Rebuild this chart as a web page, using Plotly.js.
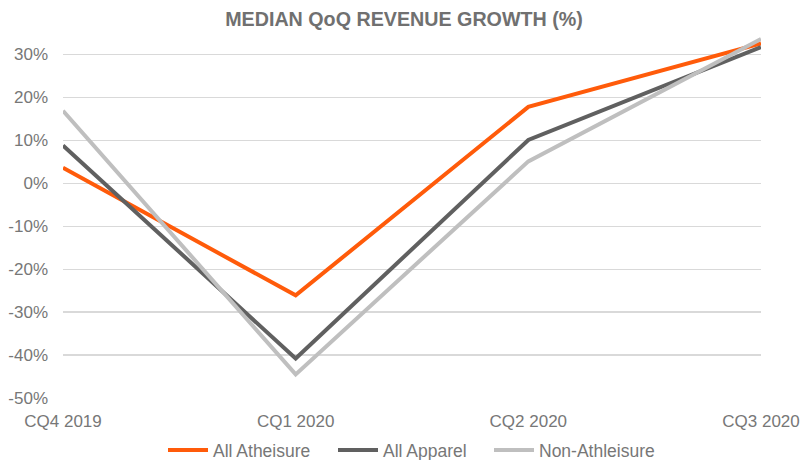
<!DOCTYPE html>
<html>
<head>
<meta charset="utf-8">
<script src="https://cdn.plot.ly/plotly-3.0.1.min.js"></script>
<style>html,body{margin:0;padding:0;background:#fff;}#chart{width:802px;height:460px;}</style>
</head>
<body>
<div id="chart"></div>
<script>
const quarters = ["CQ4 2019", "CQ1 2020", "CQ2 2020", "CQ3 2020"];
const allAthleisure = [3.6, -26.1, 17.8, 32.6];
const allApparel = [8.8, -40.8, 10.1, 31.7];
const nonAthleisure = [16.9, -44.5, 5.1, 33.6];
const seriesNames = ["All Atheisure", "All Apparel", "Non-Athleisure"];
const yTickVals = [-50, -40, -30, -20, -10, 0, 10, 20, 30];
const yTickText = yTickVals.map(v => v + "%");

const FONT = "Liberation Sans, Arial, sans-serif";
const mk = (y, name, color, lg) => ({
  type: "scatter", mode: "lines", x: quarters, y: y, name: name, legend: lg,
  line: {color: color, width: 4}, hoverinfo: "skip"
});
const data = [
  mk(allAthleisure, seriesNames[0], "#FF5B0A", "legend"),
  mk(allApparel, seriesNames[1], "#606060", "legend2"),
  mk(nonAthleisure, seriesNames[2], "#BFBFBF", "legend3")
];
const lgBase = (xpx) => ({
  orientation: "h", xref: "container", yref: "container", x: xpx/802, xanchor: "left",
  y: 1 - 432/460, yanchor: "top", itemwidth: 40,
  font: {size: 17.5, color: "#777777"}, bgcolor: "rgba(0,0,0,0)"
});
const layout = {
  width: 802, height: 460,
  margin: {l: 63, r: 41, t: 33, b: 62},
  paper_bgcolor: "#fff", plot_bgcolor: "#fff",
  font: {family: FONT, color: "#777777", size: 17},
  title: {text: "<b>MEDIAN QoQ REVENUE GROWTH (%)</b>", x: 404/802, xref: "container", xanchor: "center",
          y: 1 - 19/460, yref: "container", yanchor: "middle",
          font: {family: FONT, size: 19.7, color: "#707070"}},
  xaxis: {type: "category", range: [0, 3], showgrid: false, zeroline: false, showline: false,
          ticks: "outside", ticklen: 8, tickcolor: "rgba(0,0,0,0)",
          tickfont: {size: 17, color: "#777777"}, fixedrange: true},
  yaxis: {range: [-50, 35], tickvals: yTickVals, ticktext: yTickText, showgrid: true,
          gridcolor: "#D9D9D9", gridwidth: 1.3, zeroline: false, showline: false,
          ticklabelstandoff: 14, tickfont: {size: 17, color: "#777777"}, fixedrange: true},
  showlegend: true,
  legend: lgBase(163),
  legend2: lgBase(333),
  legend3: lgBase(489)
};
Plotly.newPlot("chart", data, layout, {displayModeBar: false, staticPlot: true});
</script>
</body>
</html>
